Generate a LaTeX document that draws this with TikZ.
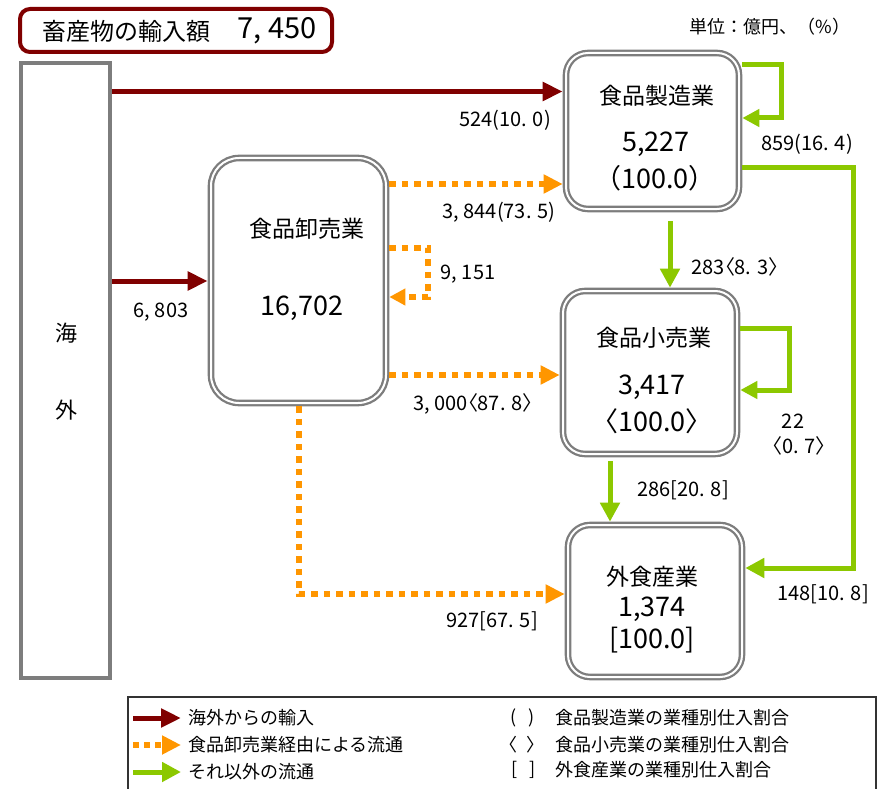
\documentclass[tikz,border=0pt]{standalone}
\usepackage{fontspec}
\setmainfont{Noto Sans CJK JP}
\newfontfamily\labfont[RawFeature=+palt]{Noto Sans CJK JP}
\usetikzlibrary{arrows.meta}
\definecolor{dred}{RGB}{128,0,0}
\definecolor{orng}{RGB}{255,150,0}
\definecolor{grn}{RGB}{140,200,0}
\definecolor{boxgray}{RGB}{125,125,125}
\tikzset{
  dbox/.style={draw=boxgray, line width=2.3pt, double=white, double distance=2pt,
    rounded corners=22pt, outer sep=3.3pt, inner sep=0pt},
  redarr/.style={draw=dred, line width=5pt, -{Triangle[length=20pt,width=18pt]}},
  orarr/.style={draw=orng, line width=6.5pt, dash pattern=on 6.5pt off 6pt,
    -{Triangle[length=19pt,width=18pt]}},
  grarr/.style={draw=grn, line width=5pt, -{Triangle[length=19pt,width=19pt]}},
  loopor/.style={orarr, -{Triangle[length=16pt,width=16pt]}},
  loopgr/.style={grarr, -{Triangle[length=17pt,width=17pt]}},
  lab/.style={font=\labfont\fontsize{20}{22}\selectfont, inner sep=0pt},
  btitle/.style={font=\fontsize{23}{25}\selectfont, inner sep=0pt},
  bnum/.style={font=\fontsize{27}{29}\selectfont, inner sep=0pt},
  legtext/.style={font=\fontsize{18}{20}\selectfont, inner sep=0pt, anchor=west},
}
\begin{document}
\begin{tikzpicture}[x=1pt,y=-1pt]
\useasboundingbox (0,0) rectangle (884,789);
\fill[white] (0,0) rectangle (884,789);

% title
\node[draw=dred, line width=4pt, rounded corners=10pt, minimum width=312pt,
      minimum height=43pt, inner sep=0pt] (title) at (176,30.5) {};
\node[font=\fontsize{24}{26}\selectfont, inner sep=0pt] (titleA) at (126,31) {畜産物の輸入額};
\node[font=\labfont\fontsize{29}{31}\selectfont, inner sep=0pt] (titleB) at (277,31) {7, 450};
\node[font=\fontsize{18}{20}\selectfont, inner sep=0pt] (unit) at (770,27) {単位：億円、（\%）};

% overseas
\node[draw=boxgray, line width=4pt, minimum width=89pt, minimum height=615pt,
      inner sep=0pt] (kaigai) at (65.5,370.5) {};
\node[font=\fontsize{22}{24}\selectfont, inner sep=0pt] (kai) at (66,333) {海};
\node[font=\fontsize{22}{24}\selectfont, inner sep=0pt] (gai) at (66,410) {外};

% boxes
\node[dbox, rounded corners=28pt, minimum width=175pt, minimum height=245pt] (whole) at (298.5,280.5) {};
\node[dbox, minimum width=173pt, minimum height=156pt] (mfg) at (652.5,131) {};
\node[dbox, minimum width=174pt, minimum height=163pt] (retail) at (650,372.5) {};
\node[dbox, minimum width=174pt, minimum height=152pt] (food) at (655,601) {};

\node[btitle] (wholeT) at (307,229) {食品卸売業};
\node[bnum] (wholeN) at (302,308) {16,702};
\node[btitle] (mfgT) at (657,96) {食品製造業};
\node[bnum] (mfgN) at (656,144) {5,227};
\node[bnum] (mfgP) at (655,178) {（100.0）};
\node[btitle] (retailT) at (654,338) {食品小売業};
\node[bnum] (retailN) at (652,387) {3,417};
\node[bnum] (retailP) at (652,421) {〈100.0〉};
\node[btitle] (foodT) at (652,577) {外食産業};
\node[bnum] (foodN) at (652,609) {1,374};
\node[bnum] (foodP) at (652,640) {[100.0]};

% red import arrows
\draw[redarr] (kaigai.east |- 0,91.5) -- (mfg.west |- 0,91.5);
\draw[redarr] (kaigai.east |- 0,281) -- (whole.west |- 0,281);

% orange flows
\draw[orarr] (whole.east |- 0,184) -- (mfg.west |- 0,184);
\draw[loopor] (whole.east |- 0,248) -- (428,248) -- (428,297) -- (whole.east |- 0,297);
\draw[orarr] (whole.east |- 0,375) -- (retail.west |- 0,375);
\draw[orarr] (whole.south -| 299,0) -- (299,594) -- (food.west |- 0,594);

% green flows
\draw[loopgr] (mfg.east |- 0,65) -- (781,65) -- (781,118) -- (mfg.east |- 0,118);
\draw[grarr] (mfg.east |- 0,168) -- (853,168) -- (853,568) -- (food.east |- 0,568);
\draw[grarr] ([yshift=-9pt]mfg.south -| 670,0) -- (retail.north -| 670,0);
\draw[loopgr] (retail.east |- 0,328) -- (789,328) -- (789,390) -- (retail.east |- 0,390);
\draw[grarr] ([yshift=-4pt]retail.south -| 610,0) -- (food.north -| 610,0);

% labels
\node[lab] (l524) at (505,120) {524(10. 0)};
\node[lab] (l6803) at (161,312) {6, 803};
\node[lab] (l3844) at (499,212) {3, 844(73. 5)};
\node[lab] (l9151) at (468,274) {9, 151};
\node[lab] (l3000) at (473,404) {3, 000〈87. 8〉};
\node[lab] (l927) at (492,621) {927[67. 5]};
\node[lab] (l859) at (807,144) {859(16. 4)};
\node[lab] (l283) at (735,267) {283〈8. 3〉};
\node[lab] (l22) at (793,421) {22};
\node[lab] (l07) at (799,446) {〈0. 7〉};
\node[lab] (l286) at (683,490) {286[20. 8]};
\node[lab] (l148) at (823,594) {148[10. 8]};

% legend
\draw[draw=black!80, line width=1.2pt] (128,800) -- (128,697) -- (876,697) -- (876,800);
\coordinate (r1a) at (133,718); \coordinate (r1b) at (181,718);
\coordinate (r2a) at (133,745); \coordinate (r2b) at (181,745);
\coordinate (r3a) at (133,772); \coordinate (r3b) at (181,772);
\draw[redarr] (r1a) -- (r1b);
\draw[orarr, dash pattern=on 6pt off 5pt] (r2a) -- (r2b);
\draw[grarr] (r3a) -- (r3b);
\node[legtext] (t1) at (188,718) {海外からの輸入};
\node[legtext] (t2) at (188,745) {食品卸売業経由による流通};
\node[legtext] (t3) at (188,772) {それ以外の流通};
\node[legtext] (b1) at (510,718) {(\hspace{12pt})};
\node[legtext] (b2) at (508,745) {\labfont〈\hspace{10pt}〉};
\node[legtext] (b3) at (511,770) {[\hspace{12pt}]};
\node[legtext] (s1) at (555,718) {食品製造業の業種別仕入割合};
\node[legtext] (s2) at (555,745) {食品小売業の業種別仕入割合};
\node[legtext] (s3) at (555,770) {外食産業の業種別仕入割合};
\end{tikzpicture}
\end{document}
